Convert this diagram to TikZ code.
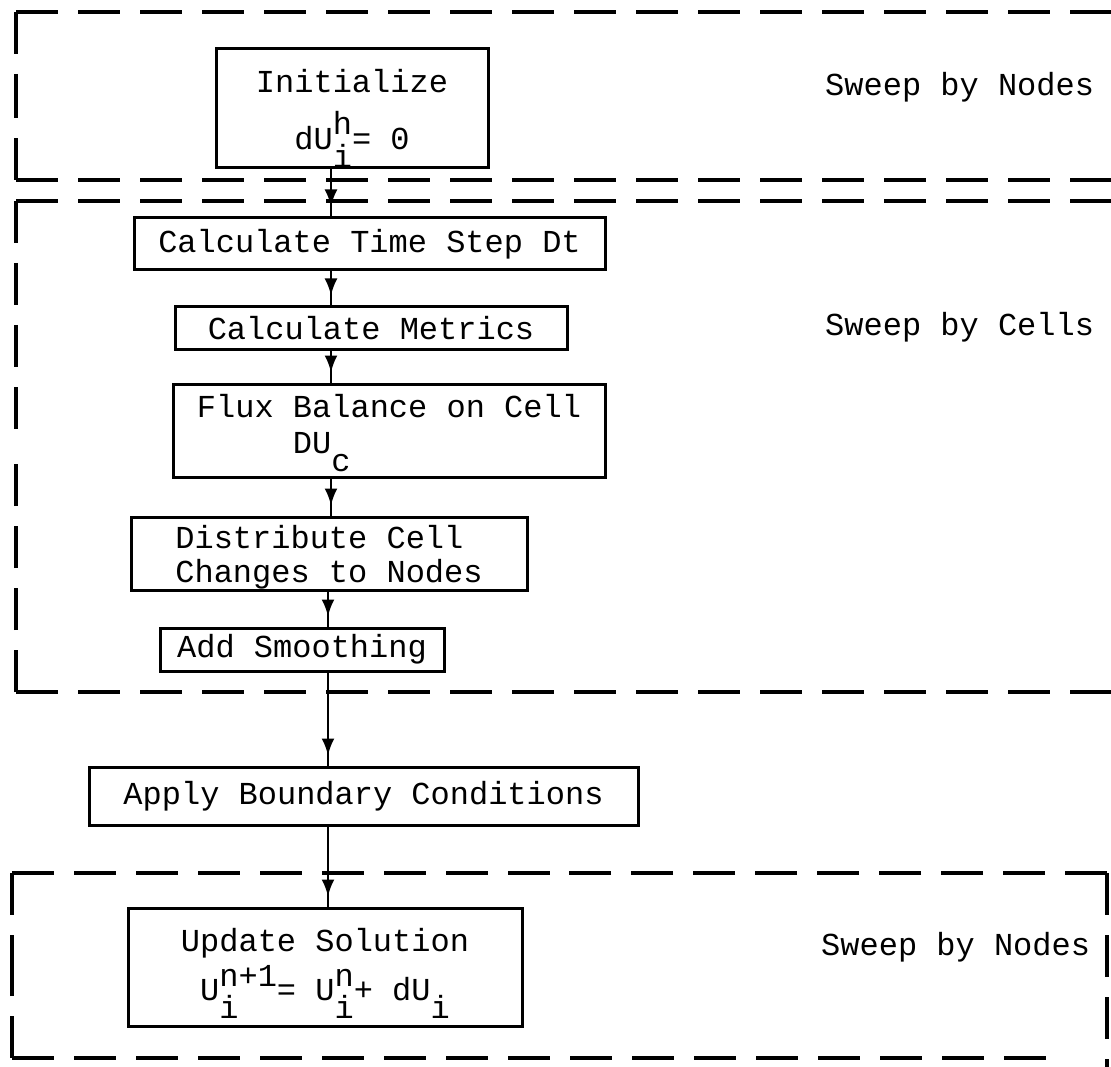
\documentclass[tikz,border=0pt]{standalone}
\usepackage{fontspec}
\newfontfamily\tw{Liberation Mono}
\usetikzlibrary{arrows.meta,decorations.markings}
\newcommand{\sps}[1]{\rlap{\raisebox{0.48em}{#1}}}
\newcommand{\sbs}[1]{\raisebox{-0.55em}{#1}}
\begin{document}
\begin{tikzpicture}[x=1pt,y=-1pt,
  box/.style={draw, line width=3pt, inner sep=0pt, font=\tw\fontsize{32}{34}\selectfont, align=center},
  frame/.style={line width=3.2pt, dash pattern=on 42pt off 20pt},
  flow/.style={line width=2.6pt, postaction={decorate},
    decoration={markings, mark=at position -10pt with {\arrow{Latex[length=17pt,width=13pt]}}}},
  lbl/.style={font=\tw\fontsize{32}{34}\selectfont, anchor=west, inner sep=0pt}]
\useasboundingbox (0,0) rectangle (1111,1067);
\fill[white] (0,0) rectangle (1111,1067);

% dashed regions
\draw[frame] (16,12) -- (1111,12);
\draw[frame] (16,12) -- (16,96);
\draw[frame] (16,180) -- (16,96);
\draw[frame] (16,180) -- (1111,180);

\draw[frame] (16,201) -- (1111,201);
\draw[frame] (16,201) -- (16,446);
\draw[frame] (16,692) -- (16,446);
\draw[frame] (16,692) -- (1111,692);

\draw[frame] (12,873) -- (560,873);
\draw[frame] (1107,873) -- (560,873);
\draw[frame] (12,873) -- (12,965);
\draw[frame] (12,1058) -- (12,965);
\draw[frame] (1107,873) -- (1107,1067);
\draw[frame] (12,1058) -- (1060,1058);

% boxes
\node[box, minimum width=272pt, minimum height=118pt] (init) at (352,108)
  {\rule{0pt}{44pt}Initialize\\[17pt] dU\sps{h}\sbs{i}= 0};
\node[box, minimum width=471pt, minimum height=52pt] (dt) at (369.5,244) {Calculate Time Step Dt};
\node[box, minimum width=392pt, minimum height=42pt] (met) at (371,328) {Calculate Metrics};
\node[box, minimum width=432pt, minimum height=93pt, align=left] (flux) at (389,430.5)
  {\rule{0pt}{28pt}Flux Balance on Cell\\[2pt] \phantom{xxxxx}DU\sbs{c}};
\node[box, minimum width=396pt, minimum height=73pt, align=left] (dist) at (329,553.5)
  {\rule{0pt}{30pt}Distribute Cell\\Changes to Nodes};
\node[box, minimum width=284pt, minimum height=43pt] (smooth) at (302,649.5) {Add Smoothing};
\node[box, minimum width=549pt, minimum height=58pt] (apply) at (363.5,796) {Apply Boundary Conditions};
\node[box, minimum width=394pt, minimum height=118pt] (upd) at (325,967)
  {\rule{0pt}{36pt}Update Solution\\[6pt] U\rlap{\sbs{i}}\raisebox{0.45em}{n+1}= U\rlap{\raisebox{0.45em}{n}}\sbs{i}+ dU\sbs{i}};

% labels
\node[lbl] (l1) at (825,87) {Sweep by Nodes};
\node[lbl] (l2) at (825,327) {Sweep by Cells};
\node[lbl] (l3) at (821,947) {Sweep by Nodes};

% connectors
\coordinate (ax) at (331,0);
\coordinate (bx) at (328,0);
\draw[flow] (init.south -| ax) -- (dt.north -| ax);
\draw[flow] (dt.south -| ax) -- (met.north -| ax);
\draw[flow] (met.south -| ax) -- (flux.north -| ax);
\draw[flow] (flux.south -| ax) -- (dist.north -| ax);
\draw[flow] (dist.south -| bx) -- (smooth.north -| bx);
\draw[flow] (smooth.south -| bx) -- (apply.north -| bx);
\draw[flow] (apply.south -| bx) -- (upd.north -| bx);
\end{tikzpicture}
\end{document}
